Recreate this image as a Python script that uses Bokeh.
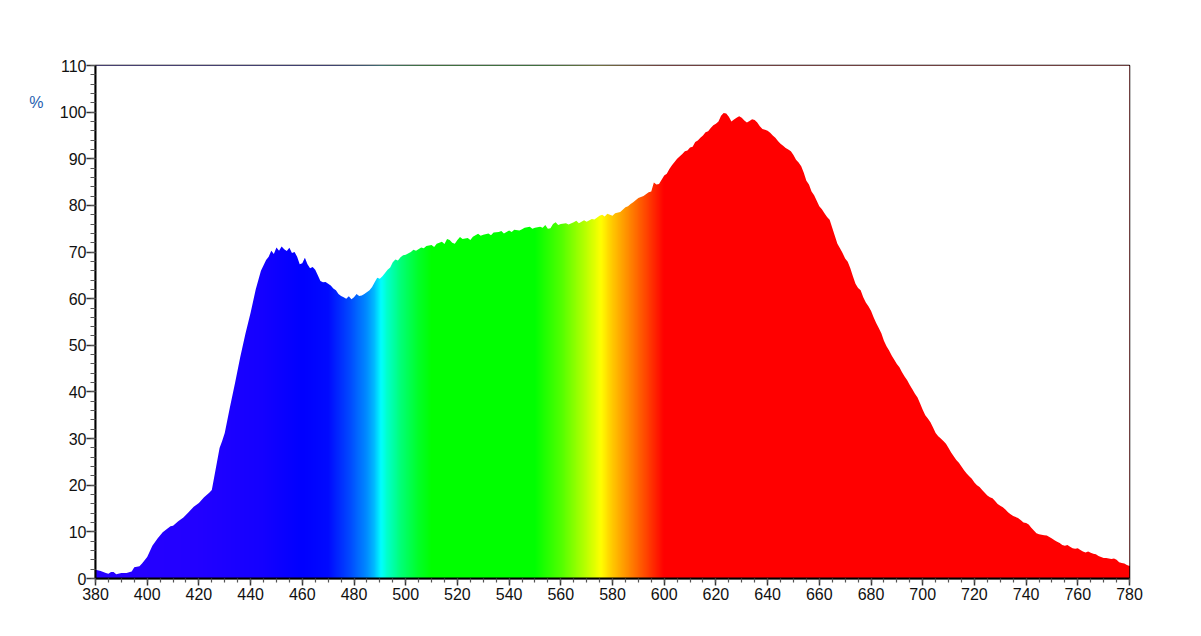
import numpy as np
from bokeh.plotting import figure
from bokeh.models import SingleIntervalTicker, FixedTicker, Range1d, LinearAxis
from bokeh.embed import file_html
from bokeh.resources import INLINE

# ---------------- data ----------------
wavelength = [380, 382, 384, 385, 386, 387, 388, 390, 392, 394, 395, 397, 398, 400, 402, 404, 406, 408, 409, 410,
              412, 414, 416, 418, 420, 422, 424, 425, 426, 428, 429, 430, 432, 434, 436, 438, 440, 442, 444, 446,
              447, 448, 449, 450, 451, 452, 453, 454, 455, 456, 457, 458, 459, 460, 461, 462, 463, 464, 465, 466,
              467, 468, 469, 470, 471, 472, 473, 474, 475, 476, 477, 478, 479, 480, 481, 482, 483, 484, 486, 487,
              488, 489, 490, 491, 492, 493, 494, 495, 496, 497, 498, 499, 500, 502, 503, 504, 506, 507, 508, 510,
              511, 512, 514, 515, 516, 517, 518, 519, 520, 521, 522, 524, 525, 526, 528, 529, 530, 532, 533, 534,
              536, 537, 538, 540, 541, 542, 544, 545, 546, 548, 549, 550, 552, 553, 554, 555, 556, 557, 558, 559,
              560, 562, 563, 565, 566, 567, 569, 570, 572, 573, 575, 576, 577, 578, 580, 581, 583, 585, 586, 587,
              588, 590, 591, 592, 594, 595, 596, 597, 598, 599, 600, 601, 602, 603, 604, 605, 607, 608, 609, 610,
              611, 612, 613, 614, 615, 616, 617, 618, 619, 620, 621, 622, 623, 624, 625, 626, 627, 628, 629, 630,
              631, 632, 633, 634, 635, 636, 637, 638, 639, 640, 641, 642, 643, 644, 645, 646, 647, 648, 649, 650,
              651, 652, 653, 654, 655, 656, 657, 658, 659, 660, 661, 662, 663, 664, 665, 666, 667, 668, 669, 670,
              671, 672, 673, 674, 675, 676, 677, 678, 679, 680, 681, 682, 683, 684, 685, 686, 687, 688, 689, 690,
              691, 692, 693, 694, 695, 696, 697, 698, 699, 700, 701, 702, 703, 704, 705, 706, 707, 708, 709, 710,
              711, 712, 713, 714, 715, 716, 717, 718, 719, 720, 721, 722, 723, 724, 725, 726, 727, 728, 729, 730,
              731, 732, 733, 734, 735, 736, 737, 738, 739, 740, 741, 742, 743, 744, 745, 746, 747, 748, 749, 750,
              751, 752, 753, 754, 755, 756, 757, 758, 759, 760, 761, 762, 763, 764, 765, 766, 767, 768, 769, 770,
              771, 772, 773, 774, 775, 776, 777, 778, 779, 780]

intensity = [1.9, 1.6, 1.2, 1.0, 1.4, 1.4, 0.9, 1.2, 1.2, 1.5, 2.4, 2.6, 3.2, 4.6, 7.0, 8.6, 9.9, 10.8, 11.2, 11.3,
             12.3, 13.1, 14.2, 15.4, 16.2, 17.4, 18.4, 19.0, 22.0, 28.0, 29.5, 31.2, 36.7, 42.0, 47.5, 52.5, 57.0, 62.0, 66.0, 68.3,
             69.0, 70.3, 69.6, 71.0, 70.3, 71.2, 70.6, 70.2, 70.9, 69.8, 70.0, 69.0, 67.4, 67.6, 68.8, 67.4, 66.5, 66.8, 66.2, 65.0,
             63.8, 63.5, 63.6, 63.2, 62.8, 62.2, 61.8, 61.0, 60.6, 60.3, 60.0, 60.5, 59.9, 60.3, 61.0, 60.6, 60.7, 61.0, 61.8, 62.5,
             63.5, 64.5, 64.3, 64.8, 65.5, 66.2, 66.7, 67.8, 68.4, 68.2, 68.9, 69.3, 69.4, 70.0, 70.5, 70.3, 71.0, 70.8, 71.3, 71.5,
             71.1, 71.8, 72.2, 71.7, 72.8, 72.6, 72.0, 71.8, 72.6, 73.2, 72.8, 73.0, 72.6, 73.3, 73.9, 73.5, 73.7, 74.0, 73.6, 74.2,
             74.3, 74.5, 74.0, 74.6, 74.3, 74.8, 74.6, 74.9, 75.2, 75.4, 75.0, 75.2, 75.4, 75.2, 75.8, 75.0, 75.1, 76.0, 76.4, 75.8,
             76.0, 76.2, 75.9, 76.4, 76.7, 76.2, 76.8, 76.5, 77.1, 77.0, 77.8, 78.0, 77.6, 78.2, 77.8, 78.3, 78.6, 79.6, 79.8, 80.3,
             80.7, 81.6, 81.8, 82.0, 82.8, 83.0, 84.9, 84.5, 84.6, 85.5, 86.4, 86.8, 87.8, 88.6, 89.3, 90.0, 91.0, 91.6, 91.8, 92.4,
             92.6, 93.6, 93.9, 94.5, 95.0, 95.7, 95.9, 96.6, 97.2, 97.5, 98.0, 99.2, 99.8, 99.7, 99.0, 98.0, 98.4, 98.8, 99.1, 98.8,
             98.2, 97.8, 98.1, 98.5, 98.3, 97.8, 97.0, 96.4, 96.2, 96.0, 95.6, 95.0, 94.5, 93.8, 93.2, 92.8, 92.3, 92.0, 91.6, 90.8,
             89.8, 89.2, 88.4, 87.0, 85.3, 84.5, 83.0, 82.2, 81.0, 79.8, 79.2, 78.3, 77.5, 76.9, 75.2, 73.5, 71.8, 70.8, 69.8, 68.6,
             67.9, 66.5, 64.8, 63.2, 62.3, 61.8, 60.3, 59.2, 58.4, 57.4, 56.0, 54.8, 53.7, 52.6, 51.0, 49.8, 48.9, 47.8, 46.9, 46.0,
             45.3, 44.2, 43.3, 42.5, 41.5, 40.6, 39.6, 38.8, 37.5, 36.2, 35.0, 34.3, 33.5, 32.4, 31.2, 30.5, 30.0, 29.5, 28.9, 28.0,
             27.0, 26.2, 25.4, 24.8, 24.0, 23.2, 22.5, 21.9, 21.4, 20.6, 20.0, 19.6, 19.0, 18.4, 17.8, 17.4, 17.2, 16.6, 16.0, 15.6,
             15.3, 14.8, 14.2, 13.8, 13.4, 13.2, 12.9, 12.5, 12.0, 11.9, 11.6, 10.9, 10.3, 9.7, 9.5, 9.4, 9.3, 9.2, 8.9, 8.6,
             8.2, 7.9, 7.6, 7.2, 7.0, 7.2, 6.8, 6.5, 6.4, 6.5, 6.1, 5.8, 5.6, 5.8, 5.5, 5.3, 5.2, 4.8, 4.6, 4.4,
             4.4, 4.3, 4.2, 4.3, 4.0, 3.5, 3.3, 3.2, 2.9, 2.7]

x_ticks = list(range(380, 781, 20))
y_ticks = list(range(0, 111, 10))
unit_label = "%"

# colour stops of the visible spectrum (wavelength, r, g, b)
stop_wl = [380, 420, 445, 460, 470, 478, 485, 488, 490.5, 493, 498, 505, 510, 550, 560, 570, 575.5, 580, 585, 590, 595, 600, 780]
stop_r = [40, 34, 20, 0, 0, 0, 0, 0, 0, 0, 0, 0, 0, 0, 80, 190, 255, 255, 255, 255, 255, 255, 255]
stop_g = [0, 0, 0, 0, 10, 70, 140, 190, 255, 255, 255, 255, 255, 255, 255, 255, 255, 200, 150, 100, 50, 0, 0]
stop_b = [255, 255, 255, 255, 255, 255, 255, 255, 255, 200, 120, 40, 0, 0, 0, 0, 0, 0, 0, 0, 0, 0, 0]

# ---------------- figure ----------------
p = figure(width=1185, height=618, output_backend="svg", toolbar_location=None,
           x_range=Range1d(380, 780), y_range=Range1d(0, 110),
           min_border_left=95, min_border_right=56, min_border_top=65, min_border_bottom=40)
p.background_fill_color = "white"
p.border_fill_color = "white"
p.outline_line_color = "black"
p.outline_line_width = 1.5
p.grid.visible = False

# spectral colour background image
ncol = 1600
cx = np.linspace(380, 780, ncol, endpoint=False) + 200.0 / ncol
r = np.interp(cx, stop_wl, stop_r).astype(np.uint32)
g = np.interp(cx, stop_wl, stop_g).astype(np.uint32)
b = np.interp(cx, stop_wl, stop_b).astype(np.uint32)
img = (255 << 24) | (b << 16) | (g << 8) | r
img = img.reshape(1, ncol)
p.image_rgba(image=[img], x=380, y=0, dw=400, dh=110)

# white mask above the spectrum curve
p.varea(x=wavelength, y1=intensity, y2=110, fill_color="white")

# axes
for ax in (p.xaxis[0], p.yaxis[0]):
    ax.axis_line_color = "black"
    ax.axis_line_width = 2
    ax.major_tick_line_color = "#333333"
    ax.minor_tick_line_color = "#555555"
    ax.major_tick_line_width = 1.5
    ax.minor_tick_line_width = 1.2
    ax.major_tick_in = 0
    ax.minor_tick_in = 0
    ax.major_label_text_font = "Liberation Sans"
    ax.major_label_text_font_size = "16px"
    ax.major_label_text_color = "#111111"

p.xaxis.ticker = SingleIntervalTicker(interval=20, num_minor_ticks=4)
p.xaxis.major_tick_out = 7
p.xaxis.minor_tick_out = 4
p.xaxis.major_label_standoff = 2
p.xaxis.major_label_overrides = {t: str(t) for t in x_ticks}

p.yaxis.ticker = SingleIntervalTicker(interval=10, num_minor_ticks=5)
p.yaxis.major_tick_out = 9
p.yaxis.minor_tick_out = 5
p.yaxis.major_label_standoff = 0
p.yaxis.major_label_overrides = {t: str(t) for t in y_ticks}

# unit label "%" drawn as an extra (line-less) left axis
unit_axis = LinearAxis(ticker=FixedTicker(ticks=[102]), major_label_overrides={102: unit_label},
                       axis_line_color=None, major_tick_line_color=None, minor_tick_line_color=None,
                       major_tick_out=0, major_tick_in=0, major_label_standoff=13,
                       major_label_text_font="Liberation Sans", major_label_text_font_size="16px",
                       major_label_text_color="#1f5fb0")
p.add_layout(unit_axis, "left")

open("out.html", "w").write(file_html(p, INLINE))
